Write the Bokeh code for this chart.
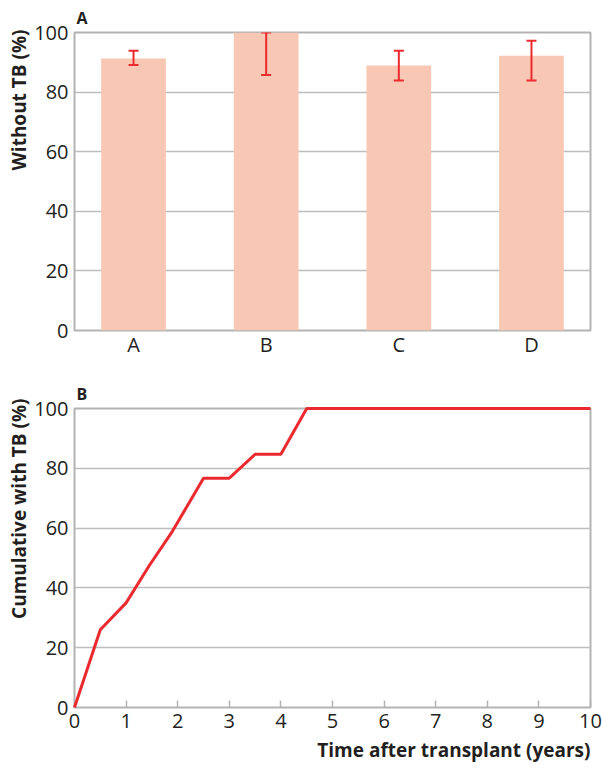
from bokeh.plotting import figure
from bokeh.models import (Range1d, FixedTicker, Whisker, TeeHead,
                          ColumnDataSource, Title)
from bokeh.layouts import column
from bokeh.embed import file_html
from bokeh.resources import INLINE

# ---- data ----
categories = ["A", "B", "C", "D"]
without_tb = [91.3, 100, 88.9, 92.2]
err_lower = [89.1, 85.7, 83.9, 83.9]
err_upper = [93.9, 100, 93.9, 97.2]
y_ticks = [0, 20, 40, 60, 80, 100]

years = [0, 0.5, 1, 1.45, 1.9, 2.5, 3, 3.5, 4, 4.5, 10]
cumulative_tb = [0, 26, 35, 47.5, 59, 76.7, 76.7, 84.7, 84.7, 100, 100]
x_ticks = list(range(0, 11))

# ---- style ----
FONT = "Open Sans"
BAR = "#f9c8b4"
RED = "#ea2a2f"
FRAME = "#b3b3b3"
GRID = "#bdbdbd"
TXT = "#231f20"


def style_axes(p):
    for ax in list(p.xaxis) + list(p.yaxis):
        ax.axis_line_color = None
        ax.major_tick_line_color = None
        ax.minor_tick_line_color = None
        ax.major_tick_in = 0
        ax.major_tick_out = 0
        ax.minor_tick_in = 0
        ax.minor_tick_out = 0
        ax.major_label_text_font = FONT
        ax.major_label_text_font_size = "20px"
        ax.major_label_text_color = TXT
    p.outline_line_color = FRAME
    p.outline_line_alpha = 1
    p.outline_line_width = 2
    p.xgrid.visible = False
    p.ygrid.ticker = FixedTicker(ticks=y_ticks[1:-1])
    p.ygrid.grid_line_color = GRID
    p.ygrid.grid_line_width = 1.5
    p.yaxis.ticker = FixedTicker(ticks=y_ticks)
    p.yaxis.major_label_standoff = 6


def panel_title(p, text):
    p.title.text = text
    p.title.align = "left"
    p.title.text_font = FONT
    p.title.text_font_size = "16px"
    p.title.text_font_style = "bold"
    p.title.text_color = TXT
    p.title.offset = 2
    p.title.standoff = 8


def side_title(p, text, shift):
    p.add_layout(Title(text=text, align="right", text_font=FONT, text_font_size="19px",
                       text_font_style="bold", text_color=TXT, standoff=0,
                       offset=shift), "left")


# ---- panel A ----
pos = list(range(len(categories)))
p1 = figure(width=602, height=368, x_range=Range1d(-0.445, 3.445), y_range=Range1d(0, 100),
            output_backend="svg", toolbar_location=None,
            min_border_left=74, min_border_right=12, min_border_top=30, min_border_bottom=38)
src = ColumnDataSource(dict(x=pos, top=without_tb, lower=err_lower, upper=err_upper))
p1.vbar(x="x", top="top", width=0.488, source=src, fill_color=BAR, line_color=None)
style_axes(p1)
p1.add_layout(Whisker(source=src, base="x", upper="upper", lower="lower",
                      line_color=RED, line_width=2, level="overlay",
                      upper_head=TeeHead(size=10, line_color=RED, line_width=2),
                      lower_head=TeeHead(size=10, line_color=RED, line_width=2)))
p1.xaxis.ticker = FixedTicker(ticks=pos)
p1.xaxis.major_label_overrides = {i: c for i, c in enumerate(categories)}
p1.xaxis.major_label_standoff = 0
panel_title(p1, "A")
side_title(p1, "Without TB (%)", -3)

# ---- panel B ----
p2 = figure(width=602, height=398, x_range=Range1d(0, 10), y_range=Range1d(0, 100),
            output_backend="svg", toolbar_location=None,
            min_border_left=74, min_border_right=12, min_border_top=40, min_border_bottom=59)
style_axes(p2)
p2.line(years, cumulative_tb, line_color=RED, line_width=3, level="overlay")
p2.xaxis.ticker = FixedTicker(ticks=x_ticks)
p2.xaxis.major_tick_line_color = FRAME
p2.xaxis.major_tick_line_width = 1.5
p2.xaxis.major_tick_in = 7
p2.xaxis.major_tick_out = 0
p2.xaxis.major_label_standoff = 6
panel_title(p2, "B")
side_title(p2, "Cumulative with TB (%)", -10)
p2.add_layout(Title(text="Time after transplant (years)", align="right", text_font=FONT,
                    text_font_size="19px", text_font_style="bold", text_color=TXT,
                    standoff=8), "below")

layout = column(p1, p2)
open("out.html", "w").write(file_html(layout, INLINE))
